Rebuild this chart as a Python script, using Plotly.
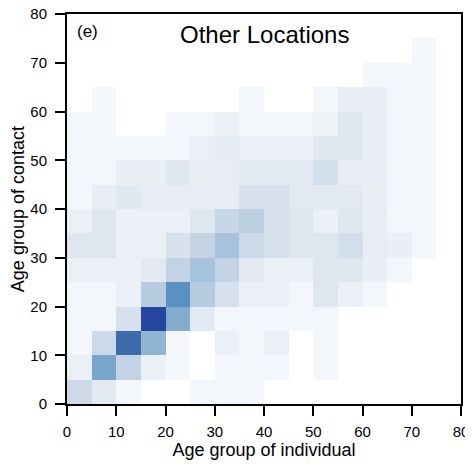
import plotly.graph_objects as go

N = None
# age groups (5-year bins, lower edges)
age_groups = [0, 5, 10, 15, 20, 25, 30, 35, 40, 45, 50, 55, 60, 65, 70, 75]
tick_vals = [0, 10, 20, 30, 40, 50, 60, 70, 80]

# relative contact intensity: rows = age group of contact (0-5 bottom), cols = age group of individual
row_00 = [0.23, 0.12, 0.03, N, N, 0.03, 0.03, 0.03, N, N, N, N, N, N, N, N]
row_05 = [0.07, 0.60, 0.29, 0.07, 0.03, N, 0.03, 0.03, 0.03, N, 0.03, N, N, N, N, N]
row_10 = [0.03, 0.24, 0.86, 0.50, 0.03, N, 0.07, 0.03, 0.07, N, 0.03, N, N, N, N, N]
row_15 = [0.03, 0.03, 0.18, 1.00, 0.55, 0.12, 0.03, 0.03, 0.03, 0.03, 0.03, N, N, N, N, N]
row_20 = [0.03, 0.03, 0.07, 0.35, 0.72, 0.35, 0.18, 0.07, 0.07, 0.03, 0.14, 0.07, 0.03, N, N, N]
row_25 = [0.07, 0.07, 0.07, 0.12, 0.29, 0.42, 0.29, 0.12, 0.07, 0.07, 0.14, 0.14, 0.08, 0.03, N, N]
row_30 = [0.14, 0.14, 0.07, 0.07, 0.18, 0.29, 0.42, 0.24, 0.18, 0.14, 0.14, 0.20, 0.09, 0.08, 0.03, N]
row_35 = [0.07, 0.14, 0.07, 0.07, 0.07, 0.14, 0.26, 0.32, 0.18, 0.14, 0.07, 0.14, 0.09, 0.03, 0.03, N]
row_40 = [0.03, 0.09, 0.13, 0.09, 0.09, 0.09, 0.09, 0.18, 0.18, 0.12, 0.12, 0.12, 0.08, 0.03, 0.03, N]
row_45 = [0.03, 0.03, 0.08, 0.08, 0.14, 0.08, 0.09, 0.12, 0.12, 0.12, 0.20, 0.09, 0.09, 0.03, 0.03, N]
row_50 = [0.03, 0.03, 0.03, 0.03, 0.03, 0.07, 0.10, 0.07, 0.07, 0.07, 0.13, 0.13, 0.08, 0.03, 0.03, N]
row_55 = [0.03, 0.03, N, N, 0.03, 0.03, 0.07, 0.03, 0.03, 0.03, 0.05, 0.14, 0.08, 0.03, 0.03, N]
row_60 = [N, 0.03, N, N, N, N, N, 0.03, N, N, 0.03, 0.09, 0.09, 0.03, 0.03, N]
row_65 = [N, N, N, N, N, N, N, N, N, N, N, N, 0.03, 0.03, 0.03, N]
row_70 = [N, N, N, N, N, N, N, N, N, N, N, N, N, N, 0.03, N]
row_75 = [N, N, N, N, N, N, N, N, N, N, N, N, N, N, N, N]

z = [row_00, row_05, row_10, row_15, row_20, row_25, row_30, row_35,
     row_40, row_45, row_50, row_55, row_60, row_65, row_70, row_75]

centers = [a + 2.5 for a in age_groups]

colorscale = [
    [0.0, "rgb(248,250,252)"],
    [0.1, "rgb(230,236,244)"],
    [0.2, "rgb(210,222,235)"],
    [0.3, "rgb(193,210,227)"],
    [0.42, "rgb(165,195,220)"],
    [0.5, "rgb(145,180,210)"],
    [0.6, "rgb(120,165,200)"],
    [0.72, "rgb(90,145,190)"],
    [0.86, "rgb(58,108,172)"],
    [1.0, "rgb(38,70,158)"],
]

fig = go.Figure(go.Heatmap(
    x=centers, y=centers, z=z, zmin=0, zmax=1,
    colorscale=colorscale, showscale=False, xgap=0, ygap=0,
    hoverongaps=False,
))

font_family = "Liberation Sans, Arial, sans-serif"
axis_common = dict(
    range=[0, 80], tickvals=tick_vals, ticks="outside", ticklen=10, tickwidth=2,
    tickcolor="black", showline=True, linecolor="black", linewidth=2, mirror=True,
    showgrid=False, zeroline=False, automargin=False, ticklabeloverflow="allow",
    tickfont=dict(size=15, color="black", family=font_family),
)

# page body has an 8px margin, so the figure is sized to leave room for it
fig.update_layout(
    width=465, height=457,
    margin=dict(l=59, r=12, t=6, b=61),
    paper_bgcolor="white", plot_bgcolor="white",
    font=dict(family=font_family, color="black"),
    xaxis=dict(**axis_common, ticklabelstandoff=3,
               title=dict(text="Age group of individual", font=dict(size=18), standoff=0)),
    yaxis=dict(**axis_common, ticklabelstandoff=5),
    annotations=[
        dict(text="Other Locations", x=0.5, y=0.947, xref="paper", yref="paper",
             showarrow=False, xanchor="center", yanchor="middle", font=dict(size=24, color="black")),
        dict(text="(e)", x=0.02, y=0.955, xref="paper", yref="paper",
             showarrow=False, xanchor="left", yanchor="middle", font=dict(size=17, color="black")),
        dict(text="Age group of contact", x=-0.124, y=0.5, xref="paper", yref="paper",
             showarrow=False, xanchor="center", yanchor="middle", textangle=-90,
             font=dict(size=18, color="black")),
    ],
)

fig.write_html("out.html")
